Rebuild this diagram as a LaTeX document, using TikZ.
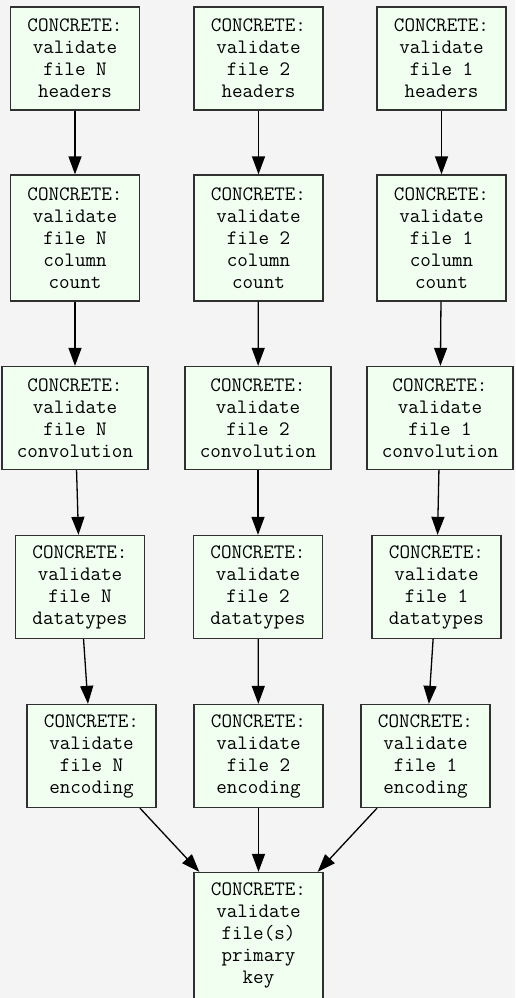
\documentclass[tikz,border=0pt]{standalone}
\usepackage{fontspec}
\newfontfamily\boxfont{Latin Modern Mono}
\usetikzlibrary{arrows.meta}
\definecolor{bgc}{HTML}{F4F4F4}
\definecolor{boxfill}{HTML}{F0FFF0}
\definecolor{boxline}{HTML}{303030}
\tikzset{
  task/.style={draw=boxline, line width=1.3pt, fill=boxfill, align=center,
    font=\boxfont\fontsize{20.5}{22}\selectfont, inner xsep=15pt, inner ysep=2pt,
    minimum width=129pt, minimum height=103pt},
  tall/.style={minimum height=126pt},
  flow/.style={draw=black, line width=1.3pt, -{Triangle[length=18pt,width=13pt]}}
}
\begin{document}
\begin{tikzpicture}[x=1pt,y=-1pt]
\fill[bgc] (0,0) rectangle (515,998);
\useasboundingbox (0,0) rectangle (515,998);
% row 1
\node[task] (hN) at (75,58.5) {CONCRETE:\\validate\\file N\\headers};
\node[task] (h2) at (258.5,58.5) {CONCRETE:\\validate\\file 2\\headers};
\node[task] (h1) at (441.5,58.5) {CONCRETE:\\validate\\file 1\\headers};
% row 2
\node[task,tall] (cN) at (75,238) {CONCRETE:\\validate\\file N\\column\\count};
\node[task,tall] (c2) at (258.5,238) {CONCRETE:\\validate\\file 2\\column\\count};
\node[task,tall] (c1) at (441.5,238) {CONCRETE:\\validate\\file 1\\column\\count};
% row 3
\node[task] (vN) at (75,418) {CONCRETE:\\validate\\file N\\convolution};
\node[task] (v2) at (258,418) {CONCRETE:\\validate\\file 2\\convolution};
\node[task] (v1) at (440,418) {CONCRETE:\\validate\\file 1\\convolution};
% row 4
\node[task] (dN) at (80,587) {CONCRETE:\\validate\\file N\\datatypes};
\node[task] (d2) at (258,587) {CONCRETE:\\validate\\file 2\\datatypes};
\node[task] (d1) at (436.5,587) {CONCRETE:\\validate\\file 1\\datatypes};
% row 5
\node[task] (eN) at (91.5,756) {CONCRETE:\\validate\\file N\\encoding};
\node[task] (e2) at (258.5,756) {CONCRETE:\\validate\\file 2\\encoding};
\node[task] (e1) at (425.5,756) {CONCRETE:\\validate\\file 1\\encoding};
% row 6
\node[task,tall] (pk) at (258.5,935.5) {CONCRETE:\\validate\\file(s)\\primary\\key};
% edges
\foreach \f in {N,2,1}{
  \draw[flow] (h\f) -- (c\f);
  \draw[flow] (c\f) -- (v\f);
  \draw[flow] (v\f) -- (d\f);
  \draw[flow] (d\f) -- (e\f);
  \draw[flow] (e\f) -- (pk);
}
\end{tikzpicture}
\end{document}
